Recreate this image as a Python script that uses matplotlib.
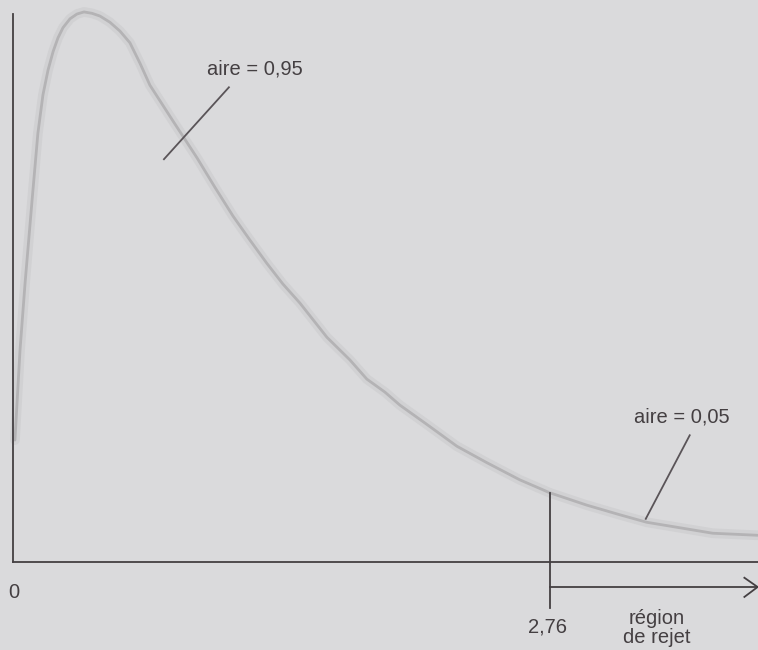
import matplotlib.pyplot as plt

# density curve of the F statistic
f_x = [0.010, 0.036, 0.062, 0.098, 0.128, 0.154, 0.180, 0.206, 0.231, 0.257,
       0.293, 0.329, 0.365, 0.406, 0.447, 0.498, 0.550, 0.601, 0.653, 0.704,
       0.822, 0.946, 1.038, 1.131, 1.218, 1.305, 1.387, 1.475, 1.614, 1.732,
       1.819, 1.912, 1.989, 2.127, 2.282, 2.436, 2.605, 2.760, 2.950, 3.119,
       3.258, 3.428, 3.597, 3.828]
f_y = [0.178, 0.309, 0.407, 0.528, 0.626, 0.682, 0.718, 0.745, 0.765, 0.780,
       0.793, 0.800, 0.803, 0.801, 0.797, 0.788, 0.775, 0.758, 0.728, 0.696,
       0.644, 0.590, 0.547, 0.505, 0.470, 0.436, 0.406, 0.378, 0.328, 0.295,
       0.267, 0.248, 0.229, 0.201, 0.169, 0.145, 0.120, 0.101, 0.083, 0.069,
       0.058, 0.050, 0.042, 0.039]

f_crit = 2.76
crit_label = "2,76"
area_accept = "aire = 0,95"
area_reject = "aire = 0,05"
reject_label = "région\nde rejet"

bg = "#dadadc"
ink = "#443f42"

plt.rcParams['font.family'] = ['Liberation Sans', 'DejaVu Sans']

fig = plt.figure(figsize=(7.58, 6.5), dpi=100, facecolor=bg)
ax = fig.add_axes([13 / 758, 88 / 650, 745 / 758, 548 / 650])
ax.set_facecolor(bg)
ax.set_xlim(0, 3.83)
ax.set_ylim(0, 0.8)

# soft grey curve: wide halo + lighter core
ax.plot(f_x, f_y, color="#d1d1d3", lw=7, solid_capstyle="round",
        solid_joinstyle="round", clip_on=False)
ax.plot(f_x, f_y, color="#b4b3b5", lw=2.0, solid_capstyle="round",
        solid_joinstyle="round", clip_on=False)

for side in ["top", "right"]:
    ax.spines[side].set_visible(False)
for side in ["left", "bottom"]:
    ax.spines[side].set_color(ink)
    ax.spines[side].set_linewidth(1.3)
ax.set_xticks([])
ax.set_yticks([])

# critical value marker
crit_top = f_y[f_x.index(f_crit)]
ax.plot([f_crit, f_crit], [crit_top, -0.067], color=ink, lw=1.3, clip_on=False)
ax.plot([f_crit, 3.828], [-0.0365, -0.0365], color=ink, lw=1.3, clip_on=False)
ax.plot([3.76, 3.828, 3.76], [-0.023, -0.0365, -0.051], color=ink, lw=1.3,
        clip_on=False)

txt = dict(color=ink, fontsize=14.5, ha="center", va="center")
ax.text(0.005, -0.045, "0", **txt)
ax.text(f_crit - 0.01, -0.095, crit_label, **txt)
ax.text(3.31, -0.097, reject_label, linespacing=1.0, **txt)

# area labels with pointer lines
ax.text(1.244, 0.720, area_accept, **txt)
ax.plot([1.110, 0.776], [0.693, 0.588], color="#5a5458", lw=1.3)
ax.text(3.438, 0.212, area_reject, **txt)
ax.plot([3.479, 3.253], [0.185, 0.063], color="#5a5458", lw=1.3)

fig.savefig("out.png", dpi=100, facecolor=bg)
